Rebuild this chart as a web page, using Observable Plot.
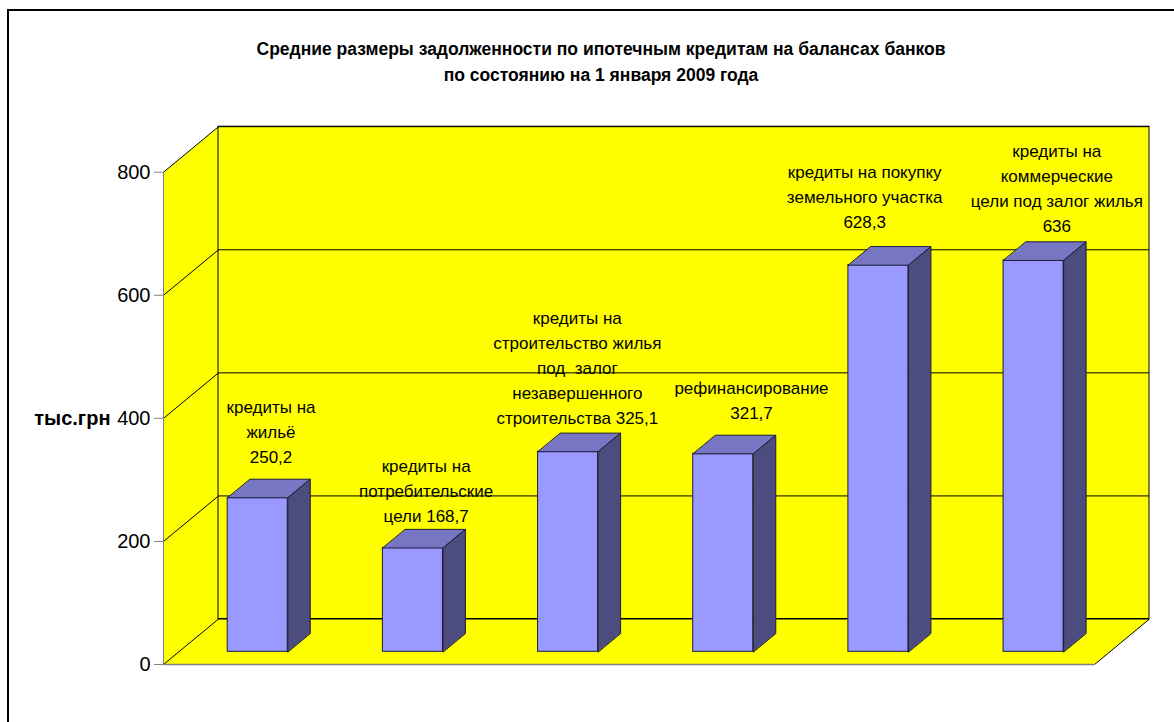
<!DOCTYPE html>
<html>
<head>
<meta charset="utf-8">
<script src="https://cdn.jsdelivr.net/npm/d3@7"></script>
<script src="https://cdn.jsdelivr.net/npm/@observablehq/plot@0.6"></script>
<style>
html,body{margin:0;padding:0;overflow:hidden;background:#fff;width:1174px;height:722px}
#page{position:relative;width:1174px;height:722px;overflow:hidden;font-family:"Liberation Sans",Arial,sans-serif}
#frame{position:absolute;left:7px;top:9px;width:1400px;height:1000px;border-left:2px solid #000;border-top:2px solid #000;box-sizing:border-box}
#title{position:relative;height:100px;box-sizing:border-box;padding-top:36px;padding-left:28px;text-align:center;font-weight:bold;font-size:17.5px;line-height:26px;color:#000}
#chart{position:relative}
</style>
</head>
<body>
<div id="page">
  <div id="frame"></div>
  <div id="title">Средние размеры задолженности по ипотечным кредитам на балансах банков<br>по состоянию на 1 января 2009 года</div>
  <div id="chart"></div>
</div>
<script>
// ---- data ----
const categories = [
  "кредиты на жильё",
  "кредиты на потребительские цели",
  "кредиты на строительство жилья под залог незавершенного строительства",
  "рефинансирование",
  "кредиты на покупку земельного участка",
  "кредиты на коммерческие цели под залог жилья"
];
const values = [250.2, 168.7, 325.1, 321.7, 628.3, 636];
const labelTemplates = [
  "кредиты на\nжильё\n{v}",
  "кредиты на\nпотребительские\nцели {v}",
  "кредиты на\nстроительство жилья\nпод  залог\nнезавершенного\nстроительства {v}",
  "рефинансирование\n{v}",
  "кредиты на покупку\nземельного участка\n{v}",
  "кредиты на\nкоммерческие\nцели под залог жилья\n{v}"
];
const yTicks = [0, 200, 400, 600, 800];
const yAxisLabel = "тыс.грн";

// ---- layout / 3D projection settings ----
const n = categories.length;
const yMax = d3.max(yTicks);
const WIDTH = 1174, HEIGHT = 622, ML = 163, MR = 80, MT = 71.7, MB = 58;
const pxX = (WIDTH - ML - MR) / n;          // pixels per category unit
const pxY = (HEIGHT - MT - MB) / yMax;      // pixels per value unit
const DZX = 55 / pxX;    // horizontal shift of full depth, in category units
const DZY = 45.5 / pxY;  // vertical shift of full depth, in value units
const Z0 = 0.279, Z1 = 0.688, ZM = (Z0 + Z1) / 2;
const A = 0.315, W = 0.387;
// manual data-label nudges in pixels [dx, dy], as in the original chart
const labelNudge = [[2, -5], [2, 4], [-2, 3], [17, -5], [-25, -7], [12, 2]];

const fmt = v => String(v).replace(".", ",");

const bars = values.map((v, i) => {
  const xl = i + A + Z0 * DZX, xr = xl + W, d = (Z1 - Z0) * DZX;
  return {
    i, v, xl, xr, d,
    y0: Z0 * DZY, yTop: v + Z0 * DZY, yTopBack: v + Z1 * DZY, y0Back: Z1 * DZY,
    lx: i + A + W / 2 + ZM * DZX + labelNudge[i][0] / pxX,
    ly: v + ZM * DZY - labelNudge[i][1] / pxY,
    label: labelTemplates[i].replace("{v}", fmt(v)),
    name: categories[i]
  };
});

const topPts = bars.flatMap(b => [
  {id: b.i, x: b.xl, y: b.yTop}, {id: b.i, x: b.xr, y: b.yTop},
  {id: b.i, x: b.xr + b.d, y: b.yTopBack}, {id: b.i, x: b.xl + b.d, y: b.yTopBack}
]);
const sidePts = bars.flatMap(b => [
  {id: b.i, x: b.xr, y: b.y0}, {id: b.i, x: b.xr, y: b.yTop},
  {id: b.i, x: b.xr + b.d, y: b.yTopBack}, {id: b.i, x: b.xr + b.d, y: b.y0Back}
]);
const floorPts = [{x: 0, y: 0}, {x: n, y: 0}, {x: n + DZX, y: DZY}, {x: DZX, y: DZY}];
const wallPts = [{x: 0, y: 0}, {x: DZX, y: DZY}, {x: DZX, y: yMax + DZY}, {x: 0, y: yMax}];

const YEL = "#FFFF00";
const EDGE = "#1c1c3a";

const chart = Plot.plot({
  width: WIDTH,
  height: HEIGHT,
  marginLeft: ML,
  marginRight: MR,
  marginTop: MT,
  marginBottom: MB,
  x: {domain: [0, n], axis: null},
  y: {domain: [0, yMax]},
  style: {fontFamily: "'Liberation Sans', Arial, sans-serif", background: "transparent", overflow: "visible", color: "#000"},
  marks: [
    // floor and side wall
    Plot.line(floorPts, {x: "x", y: "y", curve: "linear-closed", fill: YEL, stroke: "none"}),
    Plot.line(wallPts, {x: "x", y: "y", curve: "linear-closed", fill: YEL, stroke: "none"}),
    // back wall
    Plot.rect([yMax], {x1: DZX, x2: n + DZX, y1: DZY, y2: d => d + DZY, fill: YEL, stroke: "#000", strokeWidth: 1}),
    // gridlines on back wall
    Plot.ruleY(yTicks, {y: t => t + DZY, x1: DZX, x2: n + DZX, stroke: "#000", strokeWidth: 1}),
    // gridlines on side wall
    Plot.link(yTicks, {x1: 0, y1: t => t, x2: DZX, y2: t => t + DZY, stroke: "#000", strokeWidth: 1}),
    // floor right edge
    Plot.link([n], {x1: d => d, y1: 0, x2: d => d + DZX, y2: DZY, stroke: "#000", strokeWidth: 1}),
    // floor front edge and value axis line
    Plot.ruleY([0], {x1: 0, x2: n, stroke: "#808080", strokeWidth: 1.5}),
    Plot.ruleX([0], {y1: 0, y2: yMax, stroke: "#808080", strokeWidth: 1}),
    // bars
    Plot.rect(bars, {x1: "xl", x2: "xr", y1: "y0", y2: "yTop", fill: "#9999FF", stroke: EDGE, strokeWidth: 1, title: "name"}),
    Plot.line(topPts, {x: "x", y: "y", z: "id", curve: "linear-closed", fill: "#7676C2", stroke: EDGE, strokeWidth: 1}),
    Plot.line(sidePts, {x: "x", y: "y", z: "id", curve: "linear-closed", fill: "#4C4C7E", stroke: EDGE, strokeWidth: 1}),
    // data labels
    Plot.text(bars, {x: "lx", y: "ly", text: "label", fontSize: 17, lineHeight: 1.47, lineAnchor: "bottom", dy: -21, fill: "#000", textAnchor: "middle"}),
    // y axis
    Plot.axisY(yTicks, {tickSize: 9, tickPadding: 4, fontSize: 20, stroke: "#808080", fill: "#000", label: null}),
    Plot.text([yAxisLabel], {frameAnchor: "left", y: yTicks[2], text: d => d, dx: -53, textAnchor: "end", fontSize: 20, fontWeight: "bold", fill: "#000"})
  ]
});
chart.querySelectorAll("text").forEach(t => t.setAttribute("xml:space", "preserve"));
chart.style.whiteSpace = "pre";
document.getElementById("chart").appendChild(chart);
</script>
</body>
</html>
